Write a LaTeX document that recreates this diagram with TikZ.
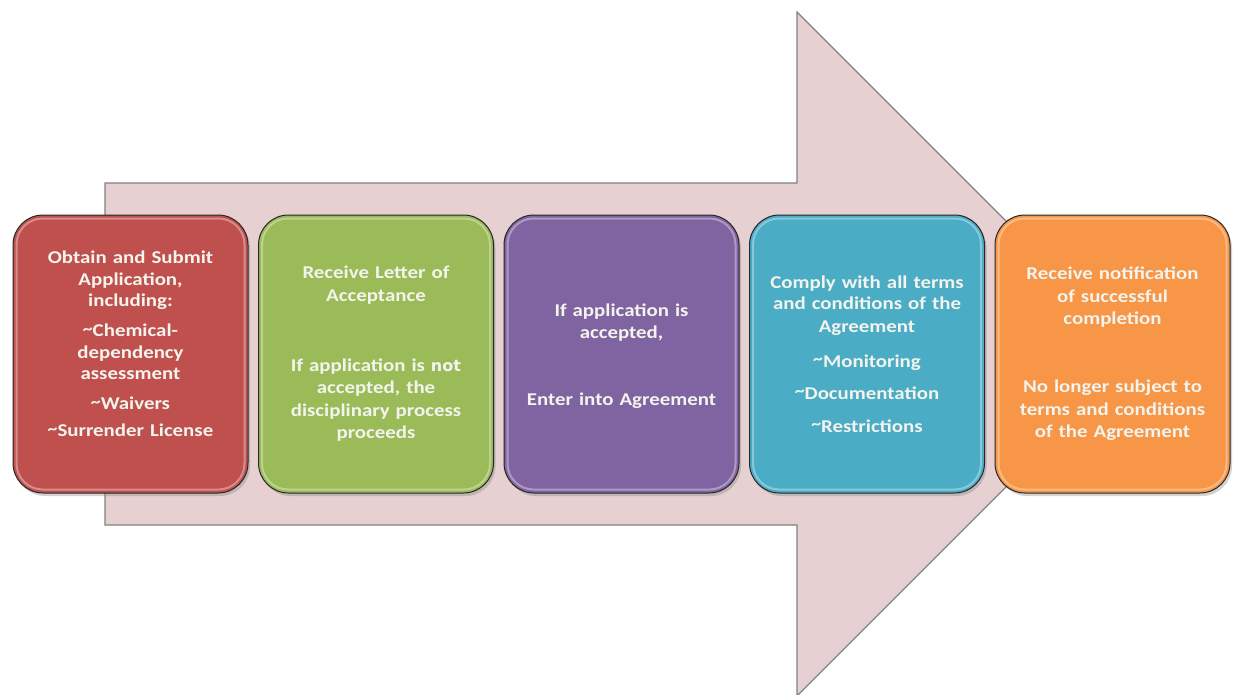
\documentclass[tikz,border=0pt]{standalone}
\usepackage{fontspec}
\setmainfont{Carlito}[FakeStretch=1.16]
\newfontfamily\notfont{DejaVu Sans}
\usetikzlibrary{shadows}
\definecolor{cred}{HTML}{C0504D}
\definecolor{cgreen}{HTML}{9BBB59}
\definecolor{cpurple}{HTML}{8064A2}
\definecolor{cblue}{HTML}{4BACC6}
\definecolor{corange}{HTML}{F79646}
\definecolor{arrowfill}{HTML}{E6D0D1}
\definecolor{arrowline}{HTML}{858080}
\definecolor{txt}{HTML}{F4F4EE}
\newcommand{\tl}{\raisebox{2.5pt}{\fontsize{17}{17}\selectfont\textasciitilde}}
\tikzset{
  stepbox/.style={draw=black!85, line width=1pt, rounded corners=30pt,
    minimum width=235pt, minimum height=278pt,
    drop shadow={shadow xshift=2pt, shadow yshift=-3pt, opacity=0.35}},
  steptext/.style={align=center, text width=228pt, inner sep=0pt,
    text=txt, font=\bfseries\fontsize{18}{22.5}\selectfont},
  gloss/.style={draw=white, opacity=0.35, line width=2pt, rounded corners=26pt},
  bigarrow/.style={fill=arrowfill, draw=arrowline, line width=1.2pt, line join=miter}
}
\begin{document}
\begin{tikzpicture}[x=1pt,y=-1pt]
\useasboundingbox (0,0) rectangle (1233,694);
\draw[bigarrow] (105,183) -- (797,183) -- (797,12) -- (1139,354) -- (797,696) -- (797,525) -- (105,525) -- cycle;

\node[stepbox, fill=cred] (b1) at (130.5,354) {};
\node[stepbox, fill=cgreen] (b2) at (376,354) {};
\node[stepbox, fill=cpurple] (b3) at (621.5,354) {};
\node[stepbox, fill=cblue] (b4) at (867,354) {};
\node[stepbox, fill=corange] (b5) at (1112.5,354) {};

\foreach \b in {b1,b2,b3,b4,b5}
  \draw[gloss] ([shift={(4,4)}]\b.north west) rectangle ([shift={(-4,-4)}]\b.south east);

\node[steptext] (t1) at (130.5,344) {Obtain and Submit\\[-1pt]Application,\\[-1pt]including:\\[7.5pt]
\tl Chemical-\\[-1pt]dependency\\[-1pt]assessment\\[7.5pt]\tl Waivers\\[4.5pt]\tl Surrender License};
\node[steptext] (t2) at (376,354) {Receive Letter of\\Acceptance\\[47.5pt]
If application is {\notfont\fontsize{16}{22.5}\selectfont not}\\accepted, the\\disciplinary process\\proceeds};
\node[steptext] (t3) at (621.5,356) {If application is\\accepted,\\[44.5pt]Enter into Agreement};
\node[steptext] (t4) at (867,354) {Comply with all terms\\[-1pt]and conditions of the\\Agreement\\[12.5pt]
\tl Monitoring\\[9.5pt]\tl Documentation\\[10.5pt]\tl Restrictions};
\node[steptext] (t5) at (1112.5,354) {Receive notification\\of successful\\completion\\[45.5pt]
No longer subject to\\terms and conditions\\of the Agreement};
\end{tikzpicture}
\end{document}
